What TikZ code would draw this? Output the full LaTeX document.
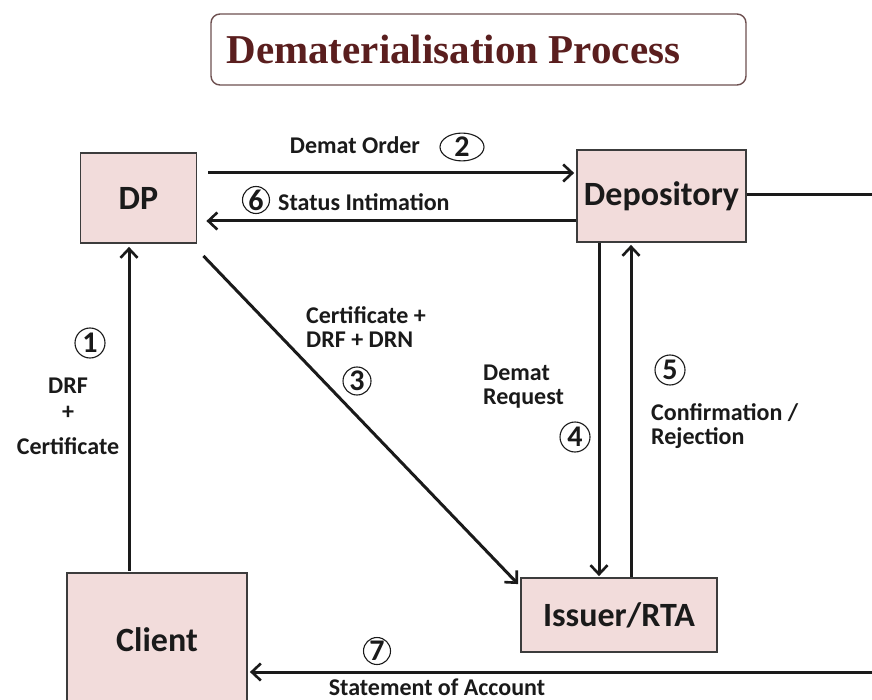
\documentclass[tikz,border=0pt]{standalone}
\usepackage{fontspec}
\setmainfont{Carlito}
\newfontfamily\titlefont{Liberation Serif}
\usetikzlibrary{arrows.meta,calc,shapes.geometric}
\definecolor{boxfill}{HTML}{F2DCDB}
\definecolor{boxline}{HTML}{3C3C3C}
\definecolor{titlecol}{HTML}{5A1E1E}
\definecolor{titleline}{HTML}{6E5050}
\definecolor{ink}{HTML}{1A1A1A}
\tikzset{
  ent/.style={draw=boxline,line width=1.8pt,fill=boxfill,text=ink,font=\fontsize{34}{36}\selectfont\bfseries,inner sep=0pt},
  arr/.style={draw=ink,line width=3pt,-{Straight Barb[length=9pt,width=17pt,line width=2.6pt]}},
  ln/.style={draw=ink,line width=3pt},
  lab/.style={text=ink,font=\fontsize{24}{24}\selectfont\bfseries,inner sep=0pt},
  num/.style={circle,draw=ink,line width=1.1pt,text=ink,font=\fontsize{30}{30}\selectfont\bfseries,inner sep=0pt,minimum size=28pt},
}
\begin{document}
\begin{tikzpicture}[x=1pt,y=-1pt]
\useasboundingbox[fill=white] (0,0) rectangle (872,700);
% title
\node[draw=titleline,line width=1.4pt,rounded corners=9pt,fill=white,minimum width=535pt,minimum height=71pt] (title) at (478.5,49.5) {};
\node[text=titlecol,font=\titlefont\fontsize{41}{42}\selectfont\bfseries,anchor=west] (ttext) at (223,49) {Dematerialisation Process};
% entities
\node[ent,minimum width=116pt,minimum height=90pt] (dp) at (138.5,198) {DP};
\node[ent,minimum width=169pt,minimum height=92pt] (dep) at (661.5,196) {Depository};
\node[ent,minimum width=180pt,minimum height=134pt] (client) at (157,640) {Client};
\node[ent,minimum width=196pt,minimum height=74pt] (iss) at (619,615) {Issuer/RTA};
% far-right route
\coordinate (r1) at (895,195);
\coordinate (r2) at (895,672);
% connectors
\draw[arr] ($(dp.east|-0,173)+(11,0)$) -- ($(dep.west|-0,173)+(-2,0)$);
\draw[arr] (dep.west|-0,221) -- ($(dp.east|-0,221)+(9,0)$);
\draw[arr] ($(dp.south east)+(6,12)$) -- ($(iss.north west)+(-2,7)$);
\draw[arr] (dep.south-|599,0) -- ($(iss.north-|599,0)+(0,-1)$);
\draw[arr] (iss.north-|631,0) -- ($(dep.south-|631,0)+(0,2)$);
\draw[arr] ($(client.north-|129,0)+(0,-1)$) -- ($(dp.south-|129,0)+(0,3)$);
\draw[ln] (dep.east|-r1) -- (r1) -- (r2);
\draw[arr] (r2) -- ($(client.east|-r2)+(2,0)$);
% labels
\node[lab] (l2) at (355,145) {Demat Order};
\node[ellipse,draw=ink,line width=1.1pt,text=ink,font=\fontsize{30}{30}\selectfont\bfseries,inner sep=0pt,minimum width=44pt,minimum height=23pt] (n2) at (462,147) {2};
\node[num,minimum size=27pt] (n6) at (256,200) {6};
\node[lab,anchor=west] (l6) at (278,202) {Status Intimation};
\node[lab,align=left,anchor=north west] (l3) at (306,306) {Certificate +\\DRF + DRN};
\node[num] (n3) at (357,381) {3};
\node[lab,align=left,anchor=north west] (l4) at (483,365) {Demat\\Request};
\node[num,minimum size=30pt] (n4) at (575,437) {4};
\node[num,minimum size=30pt] (n5) at (670,370) {5};
\node[lab,align=left,anchor=north west] (l5) at (651,403) {Confirmation /\\Rejection};
\node[num,minimum size=30pt] (n1) at (90,343) {1};
\node[lab] (l1a) at (68,386) {DRF};
\node[lab] (l1b) at (68,413) {+};
\node[lab] (l1c) at (68,446) {Certificate};
\node[num,minimum size=27pt] (n7) at (377,651) {7};
\node[lab] (l7) at (437,687) {Statement of Account};
\end{tikzpicture}
\end{document}
